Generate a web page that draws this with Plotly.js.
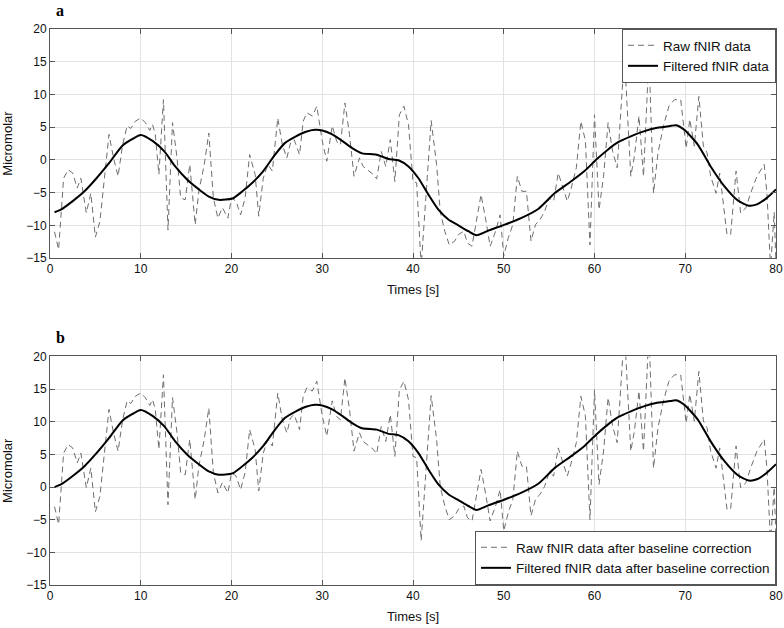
<!DOCTYPE html>
<html>
<head>
<meta charset="utf-8">
<script src="https://cdn.plot.ly/plotly-3.0.1.min.js"></script>
<style>html,body{margin:0;padding:0;background:#fff;}#chart{width:784px;height:628px;}</style>
</head>
<body>
<div id="chart"></div>
<script>
// ---- Data ----
const tRaw = [0.5,0.95,1.5,2.0,2.5,3.0,3.4,4.0,4.5,5.0,5.5,6.0,6.5,7.0,7.5,8.0,8.5,8.9,9.4,10.0,10.5,11.0,11.3,11.6,12.0,12.5,13.0,13.5,14.0,14.4,14.9,15.4,16.0,16.4,17.0,17.5,18.0,18.5,19.0,19.6,20.0,20.5,21.0,21.5,22.0,22.6,23.0,23.5,24.0,24.5,25.1,25.6,26.1,26.5,26.9,27.5,27.9,28.3,28.9,29.4,30.0,30.5,31.1,31.6,32.0,32.5,33.0,33.5,34.1,34.5,35.0,35.6,36.0,36.5,37.0,37.5,38.0,38.5,39.0,39.5,40.0,40.4,40.9,42.0,42.6,43.0,43.5,44.0,44.6,45.0,45.6,46.0,46.5,47.0,47.5,48.0,48.5,49.1,49.6,50.0,50.5,51.0,51.5,52.0,52.5,53.0,53.5,54.0,54.5,55.0,55.5,56.0,56.5,57.0,57.4,58.0,58.5,59.0,59.5,60.0,60.5,61.0,61.5,62.0,62.5,63.3,64.0,64.4,64.9,65.4,66.0,66.5,67.0,67.6,68.2,68.8,69.5,70.1,70.5,71.0,71.5,72.0,72.4,72.8,73.4,73.8,74.6,75.0,75.6,76.1,76.7,77.2,77.9,78.7,79.0,79.4,79.8,80.0];
const rawA = [-11,-13.7,-2.8,-1.5,-2.0,-4.3,-2.8,-8.1,-5.1,-11.8,-9.4,-2.2,3.9,0.3,-2.5,2.3,5.2,4.8,5.9,6.4,5.7,4.5,5.4,3.9,-2.2,9.2,-10.7,5.7,0.3,-5.8,-6.1,-0.7,-9.9,-4.8,-0.7,4.1,-5.8,-8.9,-7.3,-8.9,-5.8,-6.3,-8.4,-5.8,0.8,-2.2,-8.6,-2.8,-0.7,-1.7,6.4,2.3,0.3,2.6,3.1,0.8,5.9,7.2,6.7,8.2,2.9,-0.2,5.2,2.8,2.3,8.7,3.9,-2.5,0.3,-1.0,-1.5,-2.2,-2.9,1.3,-1.0,3.1,-3.3,6.9,8.2,5.4,-3.3,-3.5,-16.2,6.0,-0.7,-7.9,-10.9,-13,-12.4,-11.4,-10.9,-12.7,-13.2,-9.4,-5.3,-9.0,-13.2,-10.9,-8.4,-14.7,-11.9,-9.9,-2.5,-4.8,-4.8,-12.4,-9.9,-9.1,-7.9,-5.8,-6.3,-2.0,-4.3,-6.3,-4.5,-1.2,5.9,2.9,-13,6.9,-7.6,-2.5,5.7,1.3,-1.2,16,-2.5,0.6,6.7,-2.5,16,-5.1,1.1,5.2,8.2,9.2,9.2,1.8,6.2,2.1,9.7,2.1,1.1,-2.5,-5.1,-2.0,-11.4,-11.4,-1.7,-8.1,-7.3,-5.1,-2.5,-0.7,-5.1,-16.5,-8,-16];
const rawB = [-3,-5.7,5.2,6.5,6.0,3.7,5.2,-0.1,2.9,-3.8,-1.4,5.8,11.9,8.3,5.5,10.3,13.2,12.8,13.9,14.4,13.7,12.5,13.4,11.9,5.8,17.2,-2.7,13.7,8.3,2.2,1.9,7.3,-1.9,3.2,7.3,12.1,2.2,-0.9,0.7,-0.9,2.2,1.7,-0.4,2.2,8.8,5.8,-0.6,5.2,7.3,6.3,14.4,10.3,8.3,10.6,11.1,8.8,13.9,15.2,14.7,16.2,10.9,7.8,13.2,10.8,10.3,16.7,11.9,5.5,8.3,7.0,6.5,5.8,5.1,9.3,7.0,11.1,4.7,14.9,16.2,13.4,4.7,4.5,-8.2,14.0,7.3,0.1,-2.9,-5,-4.4,-3.4,-2.9,-4.7,-5.2,-1.4,2.7,-1.0,-5.2,-2.9,-0.4,-6.7,-3.9,-1.9,5.5,3.2,3.2,-4.4,-1.9,-1.1,0.1,2.2,1.7,6.0,3.7,1.7,3.5,6.8,13.9,10.9,-5,14.9,0.4,5.5,13.7,9.3,6.8,24,5.5,8.6,14.7,5.5,24,2.9,9.1,13.2,16.2,17.2,17.2,9.8,14.2,10.1,17.7,10.1,9.1,5.5,2.9,6.0,-3.4,-3.4,6.3,-0.1,0.7,2.9,5.5,7.3,2.9,-8.5,0,-8];

const tFilt = [0.5,1.2,2.5,3.8,5.0,6.5,8.0,9.1,10.0,11.3,12.6,13.8,15.1,16.4,17.5,18.6,20.1,21.2,22.3,23.5,24.8,25.9,27.1,28.2,29.2,30.0,31.1,32.2,33.3,34.4,36.0,37.3,38.4,39.5,40.6,41.7,42.8,43.9,45.0,46.1,47.0,48.3,50.1,51.9,53.8,55.6,57.4,58.9,60.2,61.5,62.6,64.0,65.5,66.9,68.4,69.0,69.9,71.4,72.8,74.3,75.8,77.0,77.9,79.0,80.0];
const filtA = [-8.0,-7.6,-6.3,-4.8,-3.0,-0.5,2.2,3.2,3.8,2.9,1.3,-1.0,-3.0,-4.5,-5.6,-6.1,-5.9,-4.8,-3.5,-1.7,0.8,2.6,3.6,4.3,4.6,4.5,3.9,2.9,1.8,1.0,0.8,0.15,-0.05,-1.0,-2.8,-5.3,-7.6,-9.1,-10.0,-10.9,-11.5,-10.8,-9.9,-8.9,-7.5,-5.1,-3.3,-1.7,0.05,1.6,2.7,3.6,4.4,4.9,5.2,5.3,4.6,2.3,-1.0,-4.0,-6.2,-7.0,-6.8,-5.8,-4.5];
const filtB = [0.0,0.4,1.7,3.2,5.0,7.5,10.2,11.2,11.8,10.9,9.3,7.0,5.0,3.5,2.4,1.9,2.1,3.2,4.5,6.3,8.8,10.6,11.6,12.3,12.6,12.5,11.9,10.9,9.8,9.0,8.8,8.15,7.95,7.0,5.2,2.7,0.4,-1.1,-2.0,-2.9,-3.5,-2.8,-1.9,-0.9,0.5,2.9,4.7,6.3,8.05,9.6,10.7,11.6,12.4,12.9,13.2,13.3,12.6,10.3,7.0,4.0,1.8,1.0,1.2,2.2,3.5];

const xTicks = [0,10,20,30,40,50,60,70,80];
const yTicks = [-15,-10,-5,0,5,10,15,20];
const namesA = ['Raw fNIR data','Filtered fNIR data'];
const namesB = ['Raw fNIR data after baseline correction','Filtered fNIR data after baseline correction'];
const xTitle = 'Times [s]';
const yTitle = 'Micromolar';
const panelLabels = ['a','b'];

// ---- Styles ----
const FONT = 'Liberation Sans, Arial, sans-serif';
const rawLine = {color:'#6e6e6e', width:1, dash:'6px,4px'};
const filtLine = {color:'#000', width:2, shape:'spline', smoothing:0.6};

const traces = [
  {x:tRaw, y:rawA, type:'scatter', mode:'lines', name:namesA[0], line:rawLine, xaxis:'x', yaxis:'y', legend:'legend'},
  {x:tFilt, y:filtA, type:'scatter', mode:'lines', name:namesA[1], line:filtLine, xaxis:'x', yaxis:'y', legend:'legend'},
  {x:tRaw, y:rawB, type:'scatter', mode:'lines', name:namesB[0], line:rawLine, xaxis:'x2', yaxis:'y2', legend:'legend2'},
  {x:tFilt, y:filtB, type:'scatter', mode:'lines', name:namesB[1], line:filtLine, xaxis:'x2', yaxis:'y2', legend:'legend2'}
];

function xa(anchor){
  return {anchor:anchor, range:[0,80], tickvals:xTicks, ticks:'inside', ticklen:5, tickcolor:'#555',
    showline:true, linecolor:'#555', linewidth:1, mirror:'ticks', showgrid:true, gridcolor:'#e2e2e2',
    zeroline:false, ticklabeloverflow:'allow', tickfont:{family:FONT, size:12, color:'#111'},
    title:{text:xTitle, font:{family:FONT, size:13, color:'#111'}, standoff:9}};
}
function ya(anchor, domain){
  return {anchor:anchor, domain:domain, range:[-15,20], tickvals:yTicks, ticks:'inside', ticklen:5, tickcolor:'#555',
    showline:true, linecolor:'#555', linewidth:1, mirror:'ticks', showgrid:true, gridcolor:'#e2e2e2',
    zeroline:false, ticklabeloverflow:'allow', tickfont:{family:FONT, size:12, color:'#111'},
    title:{text:yTitle, font:{family:FONT, size:13, color:'#111'}, standoff:10}};
}
const legendStyle = {bgcolor:'#fff', bordercolor:'#555', borderwidth:1, font:{family:FONT, size:13.5, color:'#111'},
  xanchor:'right', x:1, tracegroupgap:0};

const layout = {
  width:784, height:628,
  margin:{l:50, r:8, t:29, b:43},
  paper_bgcolor:'#fff', plot_bgcolor:'#fff',
  showlegend:true,
  xaxis: xa('y'),
  yaxis: ya('x', [0.588, 1]),
  xaxis2: xa('y2'),
  yaxis2: ya('x2', [0, 0.411]),
  legend: Object.assign({}, legendStyle, {y:1, yanchor:'top'}),
  legend2: Object.assign({}, legendStyle, {y:0, yanchor:'bottom'}),
  annotations:[
    {text:panelLabels[0], xref:'paper', yref:'paper', x:0.014, y:1.034, xanchor:'center', yanchor:'middle', showarrow:false,
     font:{family:'Liberation Serif, Times New Roman, serif', size:16, color:'#000', weight:'bold'}},
    {text:panelLabels[1], xref:'paper', yref:'paper', x:0.014, y:0.446, xanchor:'center', yanchor:'middle', showarrow:false,
     font:{family:'Liberation Serif, Times New Roman, serif', size:16, color:'#000', weight:'bold'}}
  ]
};

Plotly.newPlot('chart', traces, layout, {displayModeBar:false, staticPlot:true});
</script>
</body>
</html>
